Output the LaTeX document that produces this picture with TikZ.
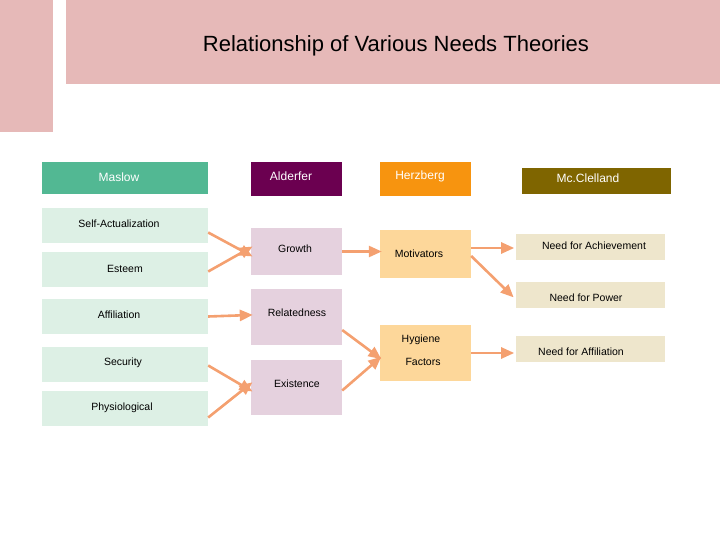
\documentclass[tikz,border=0pt]{standalone}
\usepackage{fontspec}
\setmainfont{Liberation Sans}
\usetikzlibrary{arrows.meta}
\definecolor{pinkbar}{HTML}{E6B9B8}
\definecolor{maslowhd}{HTML}{52B893}
\definecolor{maslowbx}{HTML}{DDF0E5}
\definecolor{alderhd}{HTML}{6B0050}
\definecolor{alderbx}{HTML}{E5D1DE}
\definecolor{herzhd}{HTML}{F7940F}
\definecolor{herzbx}{HTML}{FDD79A}
\definecolor{mcclhd}{HTML}{7F6500}
\definecolor{mcclbx}{HTML}{EEE6CC}
\definecolor{arrowc}{HTML}{F4A070}
\tikzset{
  box/.style={inner sep=0pt, font=\fontsize{10.5}{12}\selectfont},
  header/.style={box, text=white, font=\fontsize{12}{14}\selectfont},
  link/.style={arrowc, line width=2.6pt, -{Triangle[length=13pt,width=11pt]}, shorten >=-2pt}
}
\newcommand{\boxat}[7]{% name, style, fill, x1, y1, x2, y2
  \node[#2, fill=#3, minimum width=#6-#4, minimum height=#7-#5] (#1) at ({(#4+#6)/2},{(#5+#7)/2}) {};}
\begin{document}
\begin{tikzpicture}[x=1pt,y=-1pt]
  \useasboundingbox (0,0) rectangle (720,540);
  % --- title bars ---
  \fill[pinkbar] (66,0) rectangle (720,84);
  \fill[pinkbar] (0,0) rectangle (53,132);
  \node[font=\fontsize{22}{26}\selectfont] (title) at (396,46) {Relationship of Various Needs Theories};

  % --- headers ---
  \boxat{mh}{header}{maslowhd}{42}{162}{208}{194}
  \boxat{ah}{header}{alderhd}{251}{162}{342}{196}
  \boxat{hh}{header}{herzhd}{380}{162}{471}{196}
  \boxat{ch}{header}{mcclhd}{522}{168}{671}{194}
  \node[header] at (119,177) {Maslow};
  \node[header] at (291,176) {Alderfer};
  \node[header] at (420,176) {Herzberg};
  \node[header] at (588,178) {Mc.Clelland};

  % --- Maslow ---
  \boxat{sa}{box}{maslowbx}{42}{208}{208}{243}
  \boxat{es}{box}{maslowbx}{42}{252}{208}{287}
  \boxat{af}{box}{maslowbx}{42}{299}{208}{334}
  \boxat{se}{box}{maslowbx}{42}{347}{208}{382}
  \boxat{ph}{box}{maslowbx}{42}{391}{208}{426}
  \node[box] at (119,224) {Self-Actualization};
  \node[box] at (125,269) {Esteem};
  \node[box] at (119,315) {Affiliation};
  \node[box] at (123,363) {Security};
  \node[box] at (122,408) {Physiological};

  % --- Alderfer ---
  \boxat{gr}{box}{alderbx}{251}{228}{342}{275}
  \boxat{re}{box}{alderbx}{251}{289}{342}{345}
  \boxat{ex}{box}{alderbx}{251}{360}{342}{415}
  \node[box] at (295,249) {Growth};
  \node[box] at (297,313) {Relatedness};
  \node[box] at (297,384) {Existence};

  % --- Herzberg ---
  \boxat{mo}{box}{herzbx}{380}{230}{471}{278}
  \boxat{hy}{box}{herzbx}{380}{325}{471}{381}
  \node[box] at (419,254) {Motivators};
  \node[box] at (421,340) {Hygiene};
  \node[box] at (423,362) {Factors};

  % --- McClelland ---
  \boxat{na}{box}{mcclbx}{516}{234}{665}{260}
  \boxat{np}{box}{mcclbx}{516}{282}{665}{308}
  \boxat{nf}{box}{mcclbx}{516}{336}{665}{362}
  \node[box] at (594,246) {Need for Achievement};
  \node[box] at (586,298) {Need for Power};
  \node[box] at (581,352) {Need for Affiliation};

  % --- arrows ---
  \draw[link] ([yshift=-7pt]sa.east) -- ([yshift=-4pt]gr.west);
  \draw[link] ([yshift=-2pt]es.east) -- ([yshift=4pt]gr.west);
  \draw[link] (af.east) -- ([yshift=2pt]re.west);
  \draw[link] ([yshift=-1pt]se.east) -- ([yshift=-3pt]ex.west);
  \draw[link] ([yshift=-9pt]ph.east) -- ([yshift=4pt]ex.west);
  \draw[link] (gr.east) -- (gr.east -| mo.west);
  \draw[link] ([yshift=-13pt]re.east) -- ([yshift=-5pt]hy.west);
  \draw[link] ([yshift=-3pt]ex.east) -- ([yshift=-5pt]hy.west);
  \draw[link] ([yshift=6pt]mo.east) -- ++(41,0) coordinate (ma);
  \draw[link] ([yshift=-2pt]mo.east) -- ++(41,40) coordinate (mp);
  \draw[link] (hy.east) -- ++(41,0) coordinate (hf);
\end{tikzpicture}
\end{document}
